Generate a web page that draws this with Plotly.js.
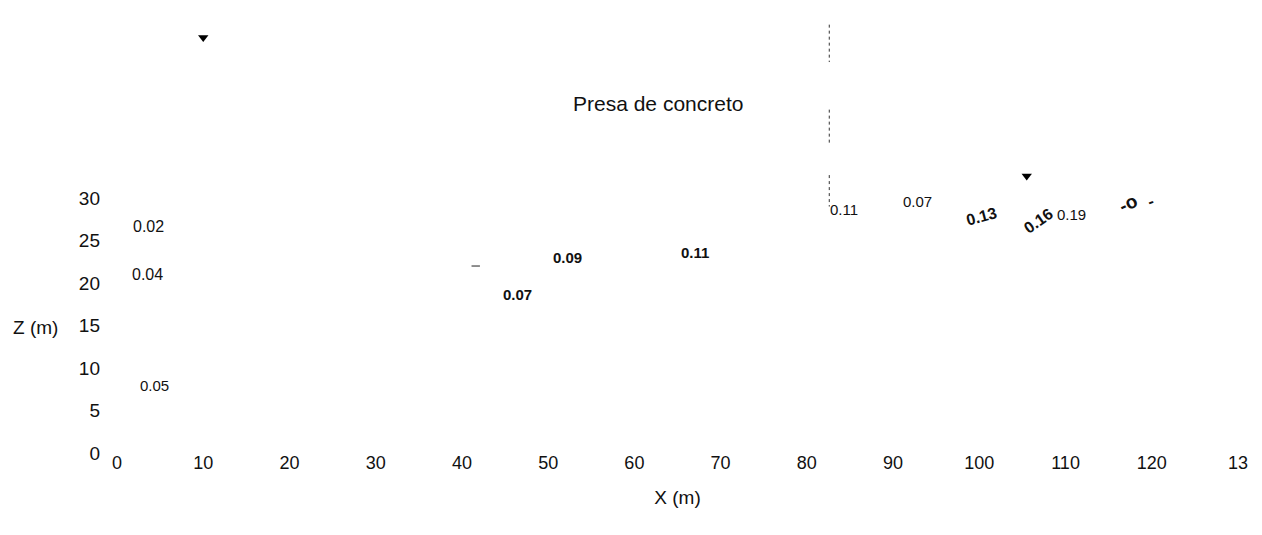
<!DOCTYPE html>
<html>
<head>
<meta charset="utf-8">
<script src="https://cdn.plot.ly/plotly-3.0.1.min.js"></script>
<style>html,body{margin:0;padding:0;background:#fff;}#chart{width:1262px;height:535px;}</style>
</head>
<body>
<div id="chart"></div>
<script>
// Tick values and labels
const xTicks = [0, 10, 20, 30, 40, 50, 60, 70, 80, 90, 100, 110, 120, 130];
const xTickLabels = ["0", "10", "20", "30", "40", "50", "60", "70", "80", "90", "100", "110", "120", "13"];
const zTicks = [0, 5, 10, 15, 20, 25, 30];

// Contour labels (value text, x, z, angle)
const labelText = ["0.02", "0.04", "0.05", "0.07", "0.09", "0.11", "0.11", "0.07", "0.13", "0.16", "0.19", "-o", "-"];
const labelX    = [3.6, 3.5, 4.4, 46.4, 52.2, 67.0, 84.3, 92.8, 100.2, 106.9, 110.7, 117.2, 119.9];
const labelZ    = [26.6, 21.0, 7.9, 18.6, 23.0, 23.6, 28.6, 29.6, 27.8, 27.3, 28.1, 29.4, 29.6];
const labelAng  = [0, 0, 0, 0, 0, 0, 0, 0, -15, -35, 0, -25, -20];
const labelBold = [false, false, false, true, true, true, false, false, true, true, false, true, true];
const labelSize = [16, 16, 15, 15, 15, 15, 15, 15, 16, 16, 15, 19, 17];

// Water level markers (x, z)
const waterX = [10.0, 105.5];
const waterZ = [48.9, 32.6];

// Dam face (dotted vertical line segments)
const damX = [82.6, 82.6, null, 82.6, 82.6, null, 82.6, 82.6];
const damZ = [50.4, 46.0, null, 40.4, 36.2, null, 32.7, 29.0];

// Small marks
const dashX = [41.6];
const dashZ = [22.0];
const dotX = [-0.35];
const dotZ = [-0.35];

const traces = [
  {x: damX, y: damZ, mode: 'lines', line: {color: '#333', width: 1, dash: 'dot'}, hoverinfo: 'skip', showlegend: false},
  {x: waterX, y: waterZ, mode: 'markers', marker: {symbol: 'triangle-down', size: 9, color: '#000'}, hoverinfo: 'skip', showlegend: false},
  {x: dashX, y: dashZ, mode: 'markers', marker: {symbol: 'line-ew', size: 6, line: {color: '#444', width: 1.2}}, hoverinfo: 'skip', showlegend: false},
  {x: dotX, y: dotZ, mode: 'markers', cliponaxis: false, marker: {symbol: 'square', size: 2, color: '#666'}, hoverinfo: 'skip', showlegend: false}
];

const FONT = 'Liberation Sans, Arial, sans-serif';
const annotations = labelText.map((t, i) => ({
  x: labelX[i], y: labelZ[i], xref: 'x', yref: 'y',
  text: labelBold[i] ? '<b>' + t + '</b>' : t,
  showarrow: false, textangle: labelAng[i],
  xanchor: 'center', yanchor: 'middle',
  font: {family: FONT, size: labelSize[i], color: '#111'}
}));
annotations.push({
  xref: 'paper', yref: 'paper', x: (658 - 117) / (1238 - 117), y: (453 - 103) / 453,
  xanchor: 'center', yanchor: 'middle',
  text: 'Presa de concreto', showarrow: false,
  font: {family: FONT, size: 21, color: '#111'}
});
annotations.push({
  xref: 'paper', yref: 'y', x: (35 - 117) / (1238 - 117), y: 14.8,
  xanchor: 'center', yanchor: 'middle',
  text: 'Z (m)', showarrow: false,
  font: {family: FONT, size: 19, color: '#111'}
});

const layout = {
  width: 1262, height: 535,
  margin: {l: 117, r: 24, t: 0, b: 82},
  paper_bgcolor: '#fff', plot_bgcolor: '#fff',
  showlegend: false,
  font: {family: FONT, size: 18, color: '#111'},
  xaxis: {
    range: [0, 130], tickvals: xTicks, ticktext: xTickLabels,
    showgrid: false, zeroline: false, showline: false, ticks: '',
    tickfont: {size: 18}, ticklabelstandoff: -3,
    title: {text: 'X (m)', font: {size: 19}, standoff: 18}
  },
  yaxis: {
    range: [0, 53.3], tickvals: zTicks,
    showgrid: false, zeroline: false, showline: false, ticks: '',
    tickfont: {size: 19}, ticklabelstandoff: 16
  },
  annotations: annotations
};

Plotly.newPlot('chart', traces, layout, {staticPlot: true, displayModeBar: false});
</script>
</body>
</html>
